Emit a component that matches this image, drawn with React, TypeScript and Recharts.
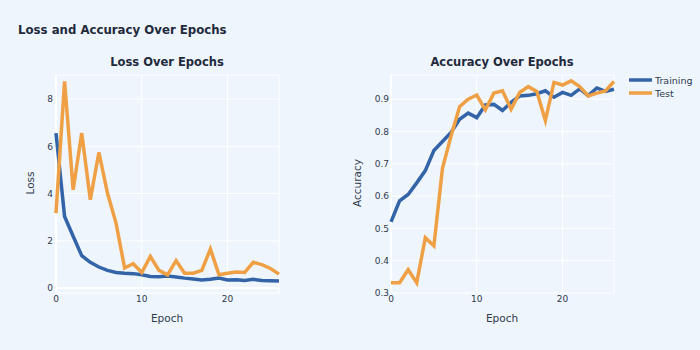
import React from "react";
import {
  LineChart,
  Line,
  XAxis,
  YAxis,
  CartesianGrid,
  ReferenceLine,
} from "recharts";

const epochs = [
  0, 1, 2, 3, 4, 5, 6, 7, 8, 9, 10, 11, 12, 13, 14, 15, 16, 17, 18, 19, 20, 21,
  22, 23, 24, 25, 26,
];
const trainLoss = [
  6.56, 3.03, 2.19, 1.37, 1.09, 0.89, 0.75, 0.66, 0.63, 0.61, 0.56, 0.49, 0.48,
  0.51, 0.47, 0.42, 0.38, 0.34, 0.37, 0.42, 0.34, 0.35, 0.32, 0.37, 0.32, 0.31,
  0.3,
];
const testLoss = [
  3.17, 8.75, 4.16, 6.56, 3.74, 5.74, 4.02, 2.75, 0.85, 1.03, 0.66, 1.34, 0.75,
  0.56, 1.16, 0.63, 0.63, 0.75, 1.65, 0.56, 0.63, 0.68, 0.66, 1.09, 0.99, 0.83,
  0.59,
];
const trainAcc = [
  0.52, 0.585, 0.605, 0.641, 0.679, 0.741, 0.769, 0.797, 0.838, 0.857, 0.843,
  0.882, 0.884, 0.865, 0.89, 0.91, 0.912, 0.917, 0.926, 0.906, 0.921, 0.912,
  0.932, 0.911, 0.935, 0.924, 0.931,
];
const testAcc = [
  0.332, 0.332, 0.372, 0.332, 0.471, 0.446, 0.686, 0.786, 0.877, 0.9, 0.913,
  0.867, 0.919, 0.926, 0.869, 0.921, 0.939, 0.924, 0.834, 0.952, 0.944, 0.957,
  0.939, 0.91, 0.919, 0.926, 0.955,
];
const epochTicks = [0, 10, 20];
const lossTicks = [0, 2, 4, 6, 8];
const accTicks = [0.3, 0.4, 0.5, 0.6, 0.7, 0.8, 0.9];

const BLUE = "#3464a8";
const ORANGE = "#f0a044";
const BG = "#eef5fd";
const TEXT = "#2f3a4c";
const FONT = "Verdana, 'DejaVu Sans', sans-serif";

const lossData = epochs.map((e, i) => ({
  epoch: e,
  train: trainLoss[i],
  test: testLoss[i],
}));
const accData = epochs.map((e, i) => ({
  epoch: e,
  train: trainAcc[i],
  test: testAcc[i],
}));

const tickStyle = { fontSize: 9, fill: TEXT, fontFamily: FONT };

export default function App() {
  return (
    <div
      style={{
        position: "fixed",
        left: 0,
        top: 0,
        width: 700,
        height: 350,
        background: BG,
        fontFamily: FONT,
        color: TEXT,
        overflow: "hidden",
      }}
    >
      <div
        style={{
          position: "absolute",
          left: 18,
          top: 23,
          fontSize: 11.75,
          fontWeight: "bold",
          color: "#1f2a3c",
          whiteSpace: "nowrap",
        }}
      >
        Loss and Accuracy Over Epochs
      </div>

      {/* loss subplot */}
      <div
        style={{
          position: "absolute",
          left: 67,
          width: 200,
          top: 55,
          textAlign: "center",
          fontSize: 11.5,
          fontWeight: "bold",
          color: "#1f2a3c",
        }}
      >
        Loss Over Epochs
      </div>
      <div style={{ position: "absolute", left: 0, top: 0 }}>
        <LineChart
          width={300}
          height={350}
          data={lossData}
          margin={{ top: 75, right: 21, bottom: 27, left: 0 }}
        >
          <CartesianGrid stroke="#ffffff" strokeWidth={1} />
          <XAxis
            dataKey="epoch"
            type="number"
            domain={[0, 26]}
            ticks={epochTicks}
            tick={tickStyle}
            tickLine={false}
            axisLine={false}
            tickSize={0}
            tickMargin={3}
            height={30}
          />
          <YAxis
            type="number"
            domain={[-0.21, 9.02]}
            ticks={lossTicks}
            tick={tickStyle}
            tickLine={false}
            axisLine={false}
            tickSize={0}
            tickMargin={3}
            width={56}
          />
          <ReferenceLine y={0} stroke="#ffffff" strokeWidth={2} />
          <ReferenceLine x={0} stroke="#ffffff" strokeWidth={2} />
          <Line
            dataKey="train"
            stroke={BLUE}
            strokeWidth={3.5}
            dot={false}
            type="linear"
            isAnimationActive={false}
          />
          <Line
            dataKey="test"
            stroke={ORANGE}
            strokeWidth={3.5}
            dot={false}
            type="linear"
            isAnimationActive={false}
          />
        </LineChart>
      </div>
      <div
        style={{
          position: "absolute",
          left: 30,
          top: 183,
          fontSize: 10.5,
          transform: "translate(-50%, -50%) rotate(-90deg)",
        }}
      >
        Loss
      </div>
      <div
        style={{
          position: "absolute",
          left: 167,
          top: 318,
          fontSize: 10.5,
          transform: "translate(-50%, -50%)",
        }}
      >
        Epoch
      </div>

      {/* accuracy subplot */}
      <div
        style={{
          position: "absolute",
          left: 402,
          width: 200,
          top: 55,
          textAlign: "center",
          fontSize: 11.5,
          fontWeight: "bold",
          color: "#1f2a3c",
        }}
      >
        Accuracy Over Epochs
      </div>
      <div style={{ position: "absolute", left: 340, top: 0 }}>
        <LineChart
          width={300}
          height={350}
          data={accData}
          margin={{ top: 75, right: 26, bottom: 27, left: 0 }}
        >
          <CartesianGrid stroke="#ffffff" strokeWidth={1} />
          <XAxis
            dataKey="epoch"
            type="number"
            domain={[0, 26]}
            ticks={epochTicks}
            tick={tickStyle}
            tickLine={false}
            axisLine={false}
            tickSize={0}
            tickMargin={3}
            height={30}
          />
          <YAxis
            type="number"
            domain={[0.3, 0.975]}
            ticks={accTicks}
            tick={tickStyle}
            tickLine={false}
            axisLine={false}
            tickSize={0}
            tickMargin={2}
            width={51}
            allowDataOverflow
          />
          <ReferenceLine x={0} stroke="#ffffff" strokeWidth={2} />
          <Line
            dataKey="train"
            stroke={BLUE}
            strokeWidth={3.5}
            dot={false}
            type="linear"
            isAnimationActive={false}
          />
          <Line
            dataKey="test"
            stroke={ORANGE}
            strokeWidth={3.5}
            dot={false}
            type="linear"
            isAnimationActive={false}
          />
        </LineChart>
      </div>
      <div
        style={{
          position: "absolute",
          left: 357,
          top: 183,
          fontSize: 10.5,
          transform: "translate(-50%, -50%) rotate(-90deg)",
        }}
      >
        Accuracy
      </div>
      <div
        style={{
          position: "absolute",
          left: 502,
          top: 318,
          fontSize: 10.5,
          transform: "translate(-50%, -50%)",
        }}
      >
        Epoch
      </div>

      {/* legend */}
      {[
        { name: "Training", color: BLUE, y: 80 },
        { name: "Test", color: ORANGE, y: 93 },
      ].map((item) => (
        <div
          key={item.name}
          style={{
            position: "absolute",
            left: 629,
            top: item.y - 7,
            height: 14,
            display: "flex",
            alignItems: "center",
            fontSize: 9.5,
          }}
        >
          <svg width={23} height={6} style={{ marginRight: 3 }}>
            <line x1={0} y1={3} x2={23} y2={3} stroke={item.color} strokeWidth={3.5} />
          </svg>
          {item.name}
        </div>
      ))}
    </div>
  );
}
